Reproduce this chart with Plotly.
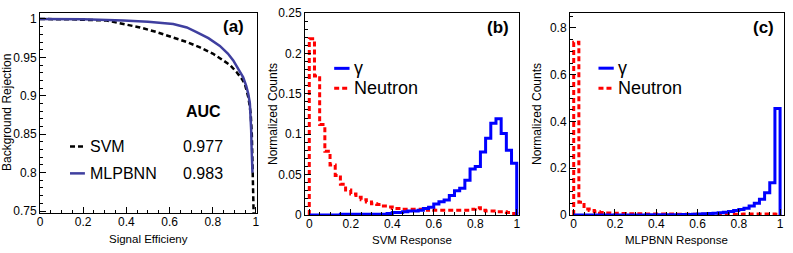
import plotly.graph_objects as go

# ---------------- data ----------------
# (a) ROC curves: signal efficiency vs background rejection
svm_eff = [0.0, 0.15, 0.309, 0.40, 0.463, 0.54, 0.617, 0.68, 0.741, 0.80, 0.849, 0.88,
           0.91, 0.935, 0.949, 0.96, 0.965, 0.972, 0.976, 0.981, 0.985, 0.988, 0.990]
svm_rej = [1.0, 0.9995, 0.998, 0.993, 0.989, 0.983, 0.976, 0.970, 0.963, 0.955, 0.946, 0.940,
           0.931, 0.922, 0.915, 0.905, 0.898, 0.885, 0.876, 0.850, 0.806, 0.770, 0.740]
mlp_eff = [0.0, 0.2, 0.386, 0.5, 0.617, 0.68, 0.725, 0.78, 0.833, 0.87, 0.895, 0.92,
           0.941, 0.955, 0.965, 0.972, 0.975, 0.978, 0.980, 0.984]
mlp_rej = [1.0, 0.9995, 0.998, 0.9965, 0.9935, 0.989, 0.983, 0.975, 0.965, 0.955, 0.946, 0.935,
           0.924, 0.913, 0.902, 0.890, 0.876, 0.855, 0.833, 0.800]
auc_labels = ["SVM", "MLPBNN"]
auc_values = ["0.977", "0.983"]

# histogram bin edges (shared by panels b and c)
bin_edges = [0.000, 0.025, 0.050, 0.075, 0.100, 0.125, 0.150, 0.175, 0.200, 0.225,
             0.250, 0.275, 0.300, 0.325, 0.350, 0.375, 0.400, 0.425, 0.450, 0.475,
             0.500, 0.525, 0.550, 0.575, 0.600, 0.625, 0.650, 0.675, 0.700, 0.725,
             0.750, 0.775, 0.800, 0.825, 0.850, 0.875, 0.900, 0.925, 0.950, 0.975, 1.000]

# (b) SVM response
svm_gamma = [0.000, 0.000, 0.000, 0.000, 0.000, 0.000, 0.001, 0.001, 0.001, 0.001,
             0.001, 0.001, 0.001, 0.001, 0.001, 0.002, 0.003, 0.003, 0.004, 0.005,
             0.005, 0.006, 0.008, 0.0095, 0.0136, 0.0165, 0.0186, 0.024, 0.030, 0.033,
             0.043, 0.057, 0.060, 0.078, 0.095, 0.1135, 0.119, 0.101, 0.080, 0.064]
svm_neutron = [0.218, 0.172, 0.112, 0.079, 0.062, 0.049, 0.038, 0.031, 0.026, 0.022,
               0.019, 0.016, 0.014, 0.013, 0.011, 0.010, 0.008, 0.008, 0.007, 0.007,
               0.007, 0.007, 0.006, 0.007, 0.006, 0.006, 0.006, 0.006, 0.006, 0.006,
               0.006, 0.007, 0.009, 0.006, 0.005, 0.005, 0.004, 0.004, 0.003, 0.002]

# (c) MLPBNN response
mlp_gamma = [0.000, 0.000, 0.000, 0.000, 0.000, 0.000, 0.000, 0.000, 0.000, 0.000,
             0.000, 0.000, 0.000, 0.000, 0.001, 0.001, 0.001, 0.001, 0.001, 0.001,
             0.001, 0.002, 0.002, 0.003, 0.004, 0.005, 0.006, 0.008, 0.010, 0.012,
             0.015, 0.019, 0.024, 0.029, 0.038, 0.050, 0.067, 0.095, 0.138, 0.456]
mlp_neutron = [0.739, 0.055, 0.026, 0.019, 0.014, 0.011, 0.009, 0.008, 0.007, 0.006,
               0.005, 0.005, 0.005, 0.004, 0.004, 0.004, 0.004, 0.004, 0.004, 0.004,
               0.003, 0.003, 0.003, 0.003, 0.003, 0.003, 0.003, 0.003, 0.003, 0.003,
               0.003, 0.003, 0.003, 0.004, 0.004, 0.004, 0.004, 0.004, 0.004, 0.003]

hist_labels = ["\u03b3", "Neutron"]
x_titles = ["Signal Efficieny", "SVM Response", "MLPBNN Response"]
y_titles = ["Background Rejection", "Normalized Counts", "Normalized Counts"]

# ---------------- helpers ----------------
FONT = "Liberation Sans, Arial, Helvetica, sans-serif"
BLUE = "#0000ff"
RED = "#ff0000"
NAVY = "#3f3f9f"
DASH = "5px,3px"
W, H = 793, 253


def step_xy(edges, counts):
    xs = [edges[0]] + list(edges)
    ys = [0] + list(counts) + [0]
    return xs, ys


fig = go.Figure()

# (a)
fig.add_trace(go.Scatter(x=svm_eff, y=svm_rej, mode="lines", xaxis="x", yaxis="y",
                         line=dict(color="black", width=2.5, dash=DASH), showlegend=False))
fig.add_trace(go.Scatter(x=mlp_eff, y=mlp_rej, mode="lines", xaxis="x", yaxis="y",
                         line=dict(color=NAVY, width=2.5), showlegend=False))

# (b)
for counts, color, dash in [(svm_neutron, RED, DASH), (svm_gamma, BLUE, "solid")]:
    xs, ys = step_xy(bin_edges, counts)
    fig.add_trace(go.Scatter(x=xs, y=ys, mode="lines", line_shape="hv", xaxis="x2", yaxis="y2",
                             line=dict(color=color, width=3, dash=dash), showlegend=False))
# (c)
for counts, color, dash in [(mlp_neutron, RED, DASH), (mlp_gamma, BLUE, "solid")]:
    xs, ys = step_xy(bin_edges, counts)
    fig.add_trace(go.Scatter(x=xs, y=ys, mode="lines", line_shape="hv", xaxis="x3", yaxis="y3",
                             line=dict(color=color, width=3, dash=dash), showlegend=False))


def dom_x(a, b):
    return [a / W, b / W]


def dom_y(top, bottom):
    return [1 - bottom / H, 1 - top / H]


def axis(domain, rng, dtick, minor, anchor, standoff=0):
    return dict(domain=domain, range=rng, anchor=anchor, dtick=dtick, tick0=0,
                ticks="inside", ticklen=6, tickwidth=1, tickcolor="black",
                minor=dict(ticks="inside", ticklen=3, dtick=minor, tickcolor="black", tickwidth=1),
                showline=True, linecolor="black", linewidth=1, mirror=True,
                showgrid=False, zeroline=False, automargin=False,
                ticklabelstandoff=standoff,
                tickfont=dict(family=FONT, size=12, color="black"))


fig.update_layout(
    width=W, height=H, autosize=False,
    margin=dict(l=0, r=0, t=0, b=0),
    paper_bgcolor="white", plot_bgcolor="white",
    font=dict(family=FONT, color="black"),
    xaxis=axis(dom_x(40, 257), [0, 1.005], 0.2, 0.05, "y", -2),
    yaxis=axis(dom_y(13, 213), [0.7474, 1.0078], 0.05, 0.01, "x"),
    xaxis2=axis(dom_x(305, 519), [-0.0207, 1.011], 0.2, 0.05, "y2", -2),
    yaxis2=axis(dom_y(13, 215), [0, 0.25], 0.05, 0.01, "x2"),
    xaxis3=axis(dom_x(570, 784), [-0.018, 1.019], 0.2, 0.05, "y3", -2),
    yaxis3=axis(dom_y(13, 215), [0, 0.864], 0.2, 0.05, "x3"),
)

ann = []
shapes = []

# axis titles (paper coordinates, pixel-derived)
xt_pos = [(148, 239), (412, 240), (676, 240)]
yt_pos = [(7, 113), (273, 114), (537, 114)]
for t, (px, py) in zip(x_titles, xt_pos):
    ann.append(dict(x=px / W, y=1 - py / H, xref="paper", yref="paper", text=t, showarrow=False,
                    xanchor="center", yanchor="middle", font=dict(family=FONT, size=11.5, color="black")))
for t, (px, py) in zip(y_titles, yt_pos):
    ann.append(dict(x=px / W, y=1 - py / H, xref="paper", yref="paper", text=t, showarrow=False,
                    textangle=-90, xanchor="center", yanchor="middle",
                    font=dict(family=FONT, size=12, color="black")))

# panel labels
ann.append(dict(x=0.898, y=0.9896, xref="x", yref="y", text="<b>(a)</b>", showarrow=False,
                font=dict(family=FONT, size=17, color="black")))
ann.append(dict(x=0.912, y=0.232, xref="x2", yref="y2", text="<b>(b)</b>", showarrow=False,
                font=dict(family=FONT, size=17, color="black")))
ann.append(dict(x=0.919, y=0.803, xref="x3", yref="y3", text="<b>(c)</b>", showarrow=False,
                font=dict(family=FONT, size=17, color="black")))

# (a) legend with AUC
ann.append(dict(x=0.757, y=0.879, xref="x", yref="y", text="<b>AUC</b>", showarrow=False,
                font=dict(family=FONT, size=16, color="black")))
rows_y = [0.834, 0.799]
row_style = [dict(color="black", width=2.5, dash=DASH), dict(color=NAVY, width=2.5)]
for lab, val, yy, st in zip(auc_labels, auc_values, rows_y, row_style):
    shapes.append(dict(type="line", xref="x", yref="y", x0=0.139, x1=0.208, y0=yy, y1=yy, line=st))
    ann.append(dict(x=0.222, y=yy, xref="x", yref="y", text=lab, showarrow=False, xanchor="left",
                    font=dict(family=FONT, size=16, color="black")))
    ann.append(dict(x=0.757, y=yy, xref="x", yref="y", text=val, showarrow=False,
                    font=dict(family=FONT, size=16, color="black")))

# (b), (c) legends
for xr, yr, ys in [("x2", "y2", [0.1815, 0.157]), ("x3", "y3", [0.628, 0.542])]:
    styles = [dict(color=BLUE, width=3), dict(color=RED, width=3, dash=DASH)]
    for lab, yy, st in zip(hist_labels, ys, styles):
        shapes.append(dict(type="line", xref=xr, yref=yr, x0=0.12, x1=0.194, y0=yy, y1=yy, line=st))
        ann.append(dict(x=0.205, y=yy, xref=xr, yref=yr, text=lab, showarrow=False, xanchor="left",
                        font=dict(family=FONT, size=18, color="black")))

fig.update_layout(annotations=ann, shapes=shapes)
fig.write_html("out.html", config={"displayModeBar": False},
               post_script="document.body.style.margin='0';document.body.style.overflow='hidden';")
